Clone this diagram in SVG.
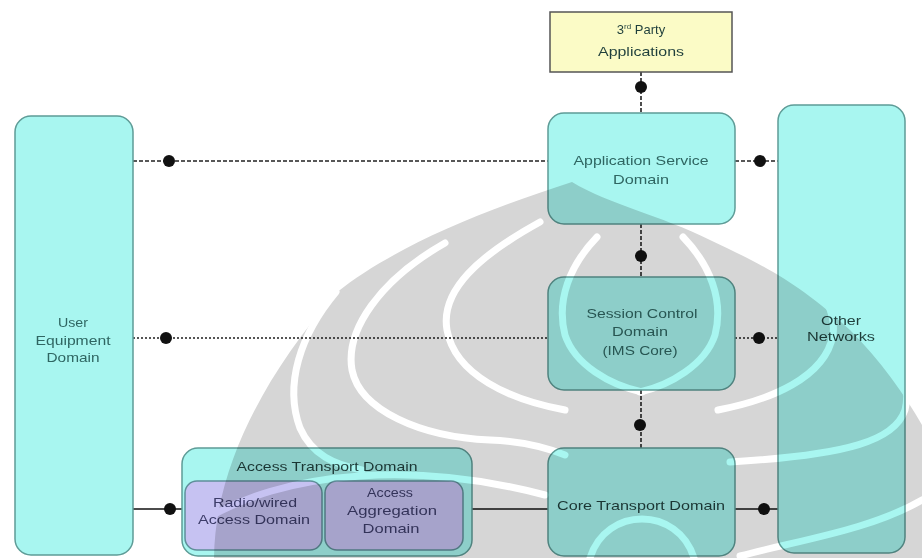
<svg xmlns="http://www.w3.org/2000/svg" width="922" height="558" viewBox="0 0 922 558">
<style>
.box{fill:#a8f6f0;stroke:#5e9c97;stroke-width:1.5}
.inner{fill:#c6c2f2;stroke:#5f8f9a;stroke-width:1.5}
.yel{fill:#fbfbc6;stroke:#555;stroke-width:1.5}
.t{font-family:"Liberation Sans",Arial,sans-serif;font-size:13px;fill:#2f6662;text-anchor:middle}
.td{fill:#1f3f3c}
.tp{fill:#3d3d6a}
.dash{stroke:#222;stroke-width:1.6;stroke-dasharray:4 2;fill:none}
.dot2{stroke:#555;stroke-width:2;stroke-dasharray:2 2;fill:none}
.solid{stroke:#111;stroke-width:1.6;fill:none}
.wm{mix-blend-mode:multiply}
</style>
<rect width="922" height="558" fill="#ffffff"/>
<g id="connectors">
<line class="dash" x1="641" y1="72" x2="641" y2="113"/>
<line class="dash" x1="641" y1="224" x2="641" y2="277"/>
<line class="dash" x1="641" y1="390" x2="641" y2="448"/>
<line class="dash" x1="133" y1="161" x2="548" y2="161"/>
<line class="dash" x1="735" y1="161" x2="778" y2="161"/>
<line class="dot2" x1="133" y1="338" x2="548" y2="338"/>
<line class="dot2" x1="735" y1="338" x2="778" y2="338"/>
<line class="solid" x1="133" y1="509" x2="182" y2="509"/>
<line class="solid" x1="472" y1="509" x2="548" y2="509"/>
<line class="solid" x1="735" y1="509" x2="778" y2="509"/>
<g fill="#111">
<circle cx="641" cy="87" r="6"/>
<circle cx="641" cy="256" r="6"/>
<circle cx="640" cy="425" r="6"/>
<circle cx="169" cy="161" r="6"/>
<circle cx="760" cy="161" r="6"/>
<circle cx="166" cy="338" r="6"/>
<circle cx="759" cy="338" r="6"/>
<circle cx="170" cy="509" r="6"/>
<circle cx="764" cy="509" r="6"/>
</g>
</g>
<g id="third-party">
<rect class="yel" x="550" y="12" width="182" height="60"/>
<text class="t td" x="641" y="34"><tspan>3</tspan><tspan font-size="8" dy="-5">rd</tspan><tspan dy="5"> Party</tspan></text>
<text class="t td" x="641" y="56" textLength="86" lengthAdjust="spacingAndGlyphs">Applications</text>
</g>
<g id="app-service">
<rect class="box" x="548" y="113" width="187" height="111" rx="16"/>
<text class="t" x="641" y="165" textLength="135" lengthAdjust="spacingAndGlyphs">Application Service</text>
<text class="t" x="641" y="184" textLength="56" lengthAdjust="spacingAndGlyphs">Domain</text>
</g>
<g id="session-control">
<rect class="box" x="548" y="277" width="187" height="113" rx="16"/>
<text class="t" x="642" y="318" textLength="111" lengthAdjust="spacingAndGlyphs">Session Control</text>
<text class="t" x="640" y="336" textLength="56" lengthAdjust="spacingAndGlyphs">Domain</text>
<text class="t" x="640" y="355" textLength="75" lengthAdjust="spacingAndGlyphs">(IMS Core)</text>
</g>
<g id="core-transport">
<rect class="box" x="548" y="448" width="187" height="108" rx="16"/>
<text class="t td" x="641" y="510" textLength="168" lengthAdjust="spacingAndGlyphs">Core Transport Domain</text>
</g>
<g id="user-equipment">
<rect class="box" x="15" y="116" width="118" height="439" rx="16"/>
<text class="t" x="73" y="327" textLength="30" lengthAdjust="spacingAndGlyphs">User</text>
<text class="t" x="73" y="345" textLength="75" lengthAdjust="spacingAndGlyphs">Equipment</text>
<text class="t" x="73" y="362" textLength="53" lengthAdjust="spacingAndGlyphs">Domain</text>
</g>
<g id="other-networks">
<rect class="box" x="778" y="105" width="127" height="448" rx="16"/>
<text class="t td" x="841" y="325" textLength="40" lengthAdjust="spacingAndGlyphs">Other</text>
<text class="t td" x="841" y="341" textLength="68" lengthAdjust="spacingAndGlyphs">Networks</text>
</g>
<g id="access-transport">
<rect class="box" x="182" y="448" width="290" height="108" rx="16"/>
<text class="t td" x="327" y="471" textLength="181" lengthAdjust="spacingAndGlyphs">Access Transport Domain</text>
<g id="radio-wired">
<rect class="inner" x="185" y="481" width="137" height="69" rx="12"/>
<text class="t tp" x="255" y="507" textLength="84" lengthAdjust="spacingAndGlyphs">Radio/wired</text>
<text class="t tp" x="254" y="524" textLength="112" lengthAdjust="spacingAndGlyphs">Access Domain</text>
</g>
<g id="access-aggregation">
<rect class="inner" x="325" y="481" width="138" height="69" rx="12"/>
<text class="t tp" x="390" y="497" textLength="46" lengthAdjust="spacingAndGlyphs">Access</text>
<text class="t tp" x="392" y="515" textLength="90" lengthAdjust="spacingAndGlyphs">Aggregation</text>
<text class="t tp" x="391" y="533" textLength="57" lengthAdjust="spacingAndGlyphs">Domain</text>
</g>
</g>
<g id="watermark" class="wm">
<path fill="#d6d6d6" d="M 214,558 C 215,470 262,378 336,293 C 390,250 470,215 572,182 C 610,205 660,215 710,240 C 770,268 800,285 850,330 C 880,360 905,395 922,425 L 922,558 Z"/>
<g stroke="#ffffff" stroke-width="7" fill="none" stroke-linecap="round">
<path d="M 336,292 C 300,335 284,385 300,428 C 312,455 335,465 362,470"/>
<path d="M 445,243 C 380,280 345,330 352,370 C 360,410 420,437 490,440 C 520,441 545,447 565,455"/>
<path d="M 540,222 C 480,255 440,290 447,330 C 455,375 510,400 565,410"/>
<path d="M 597,237 C 570,265 556,300 565,335 C 575,365 610,385 642,392"/>
<path d="M 683,237 C 710,265 724,300 715,335 C 705,365 670,385 640,392"/>
<path d="M 740,240 C 800,265 838,295 833,335 C 825,378 770,400 718,410"/>
<path d="M 820,295 C 880,330 915,370 905,410 C 895,440 850,455 730,462"/>
<path d="M 185,532 C 240,494 300,480 360,476 C 420,472 480,478 545,495"/>
<path d="M 590,558 C 598,532 620,519 642,519 C 664,519 686,532 694,558"/>
<path d="M 740,556 C 800,540 870,530 922,500"/>
</g>
</g>
</svg>
